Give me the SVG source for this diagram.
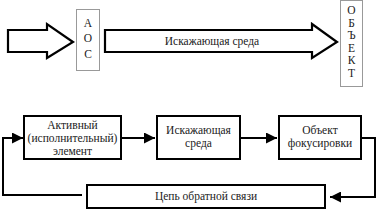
<svg xmlns="http://www.w3.org/2000/svg" width="378" height="209" viewBox="0 0 378 209">
<style>
text{font-family:'Liberation Serif','Times New Roman',serif;font-size:11.5px;fill:#222;text-anchor:middle}
.hollow{fill:#fff;stroke:#000;stroke-width:2.2;stroke-linejoin:miter}
.gbox{fill:#fff;stroke:#999;stroke-width:1}
.box{fill:#fff;stroke:#000;stroke-width:2}
.con{fill:none;stroke:#000;stroke-width:2}
</style>
<defs>
<marker id="ah" viewBox="0 0 10 10" refX="10" refY="5" markerWidth="5.5" markerHeight="5.5" orient="auto">
<path d="M0,0 L10,5 L0,10 z" fill="#000"/>
</marker>
</defs>
<g id="input-arrow">
<path class="hollow" d="M8,30 L47,30 L47,24 L73,42 L47,58 L47,52 L8,52 z"/>
</g>
<g id="aos">
<rect class="gbox" x="76.5" y="9.5" width="23" height="61"/>
<text x="88" y="27">А</text>
<text x="88" y="42">О</text>
<text x="88" y="58">С</text>
</g>
<g id="medium-arrow">
<path class="hollow" d="M105,30 L312,30 L312,24 L337,42 L312,58 L312,52 L105,52 z"/>
<text x="212" y="45">Искажающая среда</text>
</g>
<g id="object">
<rect class="gbox" x="340.5" y="0.5" width="22" height="86"/>
<text x="351.5" y="14">О</text>
<text x="351.5" y="27">Б</text>
<text x="351.5" y="39">Ъ</text>
<text x="351.5" y="52">Е</text>
<text x="351.5" y="64">К</text>
<text x="351.5" y="77">Т</text>
</g>
<g id="active">
<rect class="box" x="24" y="116" width="97" height="43"/>
<text x="72.5" y="129">Активный</text>
<text x="72.5" y="142">(исполнительный)</text>
<text x="72.5" y="155">элемент</text>
</g>
<g id="medium">
<rect class="box" x="157" y="116" width="83" height="43"/>
<text x="198.5" y="134">Искажающая</text>
<text x="198.5" y="147">среда</text>
</g>
<g id="focus">
<rect class="box" x="279" y="116" width="82" height="43"/>
<text x="320" y="134">Объект</text>
<text x="320" y="147">фокусировки</text>
</g>
<g id="feedback">
<rect class="box" x="87" y="185" width="238" height="23"/>
<text x="206" y="200">Цепь обратной связи</text>
</g>
<g id="connectors">
<line class="con" x1="121" y1="138" x2="155" y2="138" marker-end="url(#ah)"/>
<line class="con" x1="240" y1="138" x2="277" y2="138" marker-end="url(#ah)"/>
<polyline class="con" points="361,138 375,138 375,197 330,197" marker-end="url(#ah)"/>
<polyline class="con" points="82,195 3,195 3,138 23,138" marker-end="url(#ah)"/>
</g>
</svg>
